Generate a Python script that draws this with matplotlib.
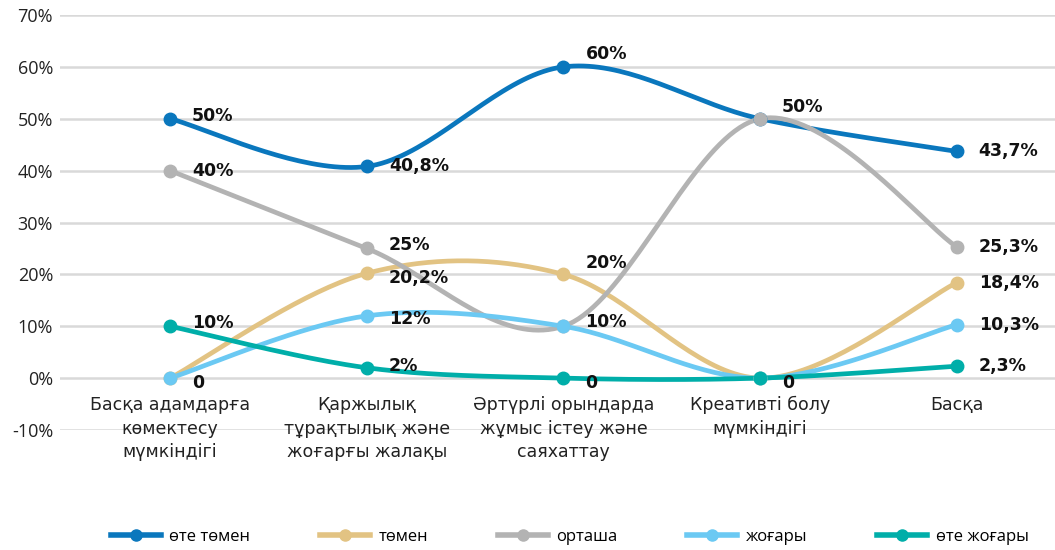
import matplotlib
matplotlib.use("Agg")
import matplotlib.pyplot as plt
import numpy as np
from matplotlib.lines import Line2D

plt.rcParams["font.family"] = ["Open Sans", "DejaVu Sans"]

# Data
categories = [
    "Басқа адамдарға\nкөмектесу\nмүмкіндігі",
    "Қаржылық\nтұрақтылық және\nжоғарғы жалақы",
    "Әртүрлі орындарда\nжұмыс істеу және\nсаяхаттау",
    "Креативті болу\nмүмкіндігі",
    "Басқа",
]
series_names = ["өте төмен", "төмен", "орташа", "жоғары", "өте жоғары"]

very_low = [50, 40.8, 60, 50, 43.7]
low = [0, 20.2, 20, 0, 18.4]
medium = [40, 25, 10, 50, 25.3]
high = [0, 12, 10, 0, 10.3]
very_high = [10, 2, 0, 0, 2.3]

very_low_labels = ["50%", "40,8%", "60%", None, "43,7%"]
low_labels = ["0", "20,2%", "20%", "0", "18,4%"]
medium_labels = ["40%", "25%", None, "50%", "25,3%"]
high_labels = [None, "12%", "10%", None, "10,3%"]
very_high_labels = ["10%", "2%", "0", None, "2,3%"]

y_ticks = [-10, 0, 10, 20, 30, 40, 50, 60, 70]

# Styling
colors = ["#0a77bd", "#e2c383", "#b3b3b3", "#6bc9f3", "#00aea9"]
# vertical label offsets in pixels (positive = up)
label_dy = [
    [3, 0, 13, 0, 0],
    [-5, -5, 11, -5, 0],
    [0, 3, 0, 12, 0],
    [0, -3, 4, 0, 0],
    [3, 2, -5, 0, 0],
]


def smooth(xs, ys, n=40):
    # Excel-style smoothed line: cubic Bezier with Catmull-Rom control points
    xs = np.asarray(xs, float)
    ys = np.asarray(ys, float)
    px = np.concatenate([[xs[0]], xs, [xs[-1]]])
    py = np.concatenate([[ys[0]], ys, [ys[-1]]])
    out_x, out_y = [], []
    t = np.linspace(0, 1, n)
    for i in range(1, len(px) - 2):
        p0 = np.array([px[i], py[i]])
        p3 = np.array([px[i + 1], py[i + 1]])
        c1 = p0 + (np.array([px[i + 1], py[i + 1]]) - np.array([px[i - 1], py[i - 1]])) / 6
        c2 = p3 - (np.array([px[i + 2], py[i + 2]]) - np.array([px[i], py[i]])) / 6
        pts = ((1 - t) ** 3)[:, None] * p0 + (3 * (1 - t) ** 2 * t)[:, None] * c1 \
            + (3 * (1 - t) * t ** 2)[:, None] * c2 + (t ** 3)[:, None] * p3
        out_x.extend(pts[:, 0])
        out_y.extend(pts[:, 1])
    return out_x, out_y


fig = plt.figure(figsize=(10.55, 5.5), dpi=100)
ax = fig.add_axes([60 / 1055, 120 / 550, 995 / 1055, 415 / 550])

x = np.arange(len(categories))
all_series = [very_low, low, medium, high, very_high]
all_labels = [very_low_labels, low_labels, medium_labels, high_labels, very_high_labels]

for k in range(len(all_series)):
    ys = all_series[k]
    sx, sy = smooth(x, ys)
    ax.plot(sx, sy, color=colors[k], lw=3.4, solid_capstyle="round", zorder=3)
    ax.plot(x, ys, "o", color=colors[k], ms=9, zorder=4)
    for i, lab in enumerate(all_labels[k]):
        if lab is None:
            continue
        ax.annotate(lab, (x[i], ys[i]), xytext=(22, label_dy[k][i]), textcoords="offset pixels",
                    ha="left", va="center", fontsize=12.5, fontweight="bold", color="#111111",
                    family="DejaVu Sans", zorder=5)

ax.set_ylim(-10, 70)
ax.set_xlim(-0.56, 4.5)
ax.set_yticks(y_ticks)
ax.set_yticklabels([f"{v}%" for v in y_ticks], fontsize=13, color="#222222")
ax.set_xticks([])
ax.tick_params(axis="y", length=0, pad=5)
ax.grid(axis="y", color="#d9d9d9", lw=1.8)
ax.set_axisbelow(True)
for spine in ax.spines.values():
    spine.set_visible(False)

for i, cat in enumerate(categories):
    ax.annotate(cat, (x[i], 0), xytext=(0, -18), textcoords="offset pixels",
                ha="center", va="top", fontsize=12.5, color="#222222", linespacing=1.4,
                family="DejaVu Sans")

handles = [Line2D([0], [0], color=c, lw=4, marker="o", ms=8) for c in colors]
fig.legend(handles, series_names, loc="center", bbox_to_anchor=(0.54, 13 / 550), ncol=5,
           frameon=False, fontsize=12, handlelength=3.0, columnspacing=4.2, handletextpad=0.5)

fig.savefig("out.png", dpi=100)
